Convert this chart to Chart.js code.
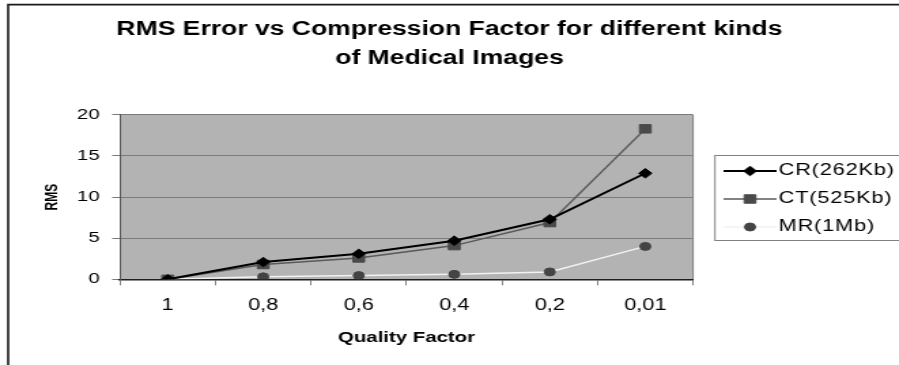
<!DOCTYPE html>
<html>
<head>
<meta charset="utf-8">
<script src="https://cdn.jsdelivr.net/npm/chart.js@4/dist/chart.umd.min.js"></script>
<style>
  html, body { margin: 0; padding: 0; background: #ffffff; overflow: hidden; }
  #wrap { width: 899px; height: 365px; position: relative; }
  /* the chart is laid out on a narrower canvas and widened to the page width */
  #chart { transform-origin: 0 0; transform: scaleX(1.36); }
</style>
</head>
<body>
<div id="wrap"><canvas id="chart" width="661" height="365"></canvas></div>
<script>
// Quality factor categories (x axis)
const qualityFactors = ['1', '0,8', '0,6', '0,4', '0,2', '0,01'];

// RMS error per image type
const crValues = [0, 2.1, 3.1, 4.7, 7.3, 12.9];
const ctValues = [0, 1.8, 2.6, 4.1, 6.9, 18.3];
const mrValues = [0, 0.3, 0.45, 0.6, 0.9, 4.0];

// Series names
const seriesNames = ['CR(262Kb)', 'CT(525Kb)', 'MR(1Mb)'];

// Y axis range and step
const yMin = 0, yMax = 20, yStep = 5;

const FONT = "'Liberation Sans', Arial, sans-serif";

// Gray plot background, right border and outer frame
const backdropPlugin = {
  id: 'backdrop',
  beforeDraw(chart) {
    const { ctx, chartArea: a, width } = chart;
    ctx.save();
    ctx.fillStyle = '#b3b3b3';
    ctx.fillRect(a.left, a.top, a.right - a.left, a.bottom - a.top);
    ctx.strokeStyle = '#808080';
    ctx.lineWidth = 1;
    ctx.beginPath();
    ctx.moveTo(a.right, a.top);
    ctx.lineTo(a.right, a.bottom);
    ctx.stroke();
    // outer frame (top and left edges)
    ctx.strokeStyle = '#1a1a1a';
    ctx.lineWidth = 1.6;
    ctx.beginPath();
    ctx.moveTo(width + 5, 4.6);
    ctx.lineTo(6, 4.6);
    ctx.lineTo(6, chart.height + 5);
    ctx.stroke();
    ctx.restore();
  }
};

// Boxed legend with line + marker samples
const sideLegendPlugin = {
  id: 'sideLegend',
  afterDraw(chart) {
    const { ctx } = chart;
    const boxL = 525.7, boxT = 155.5, boxB = 240.5;
    ctx.save();
    ctx.fillStyle = '#ffffff';
    ctx.fillRect(boxL, boxT, chart.width - boxL + 5, boxB - boxT);
    ctx.strokeStyle = '#808080';
    ctx.lineWidth = 1;
    ctx.strokeRect(boxL, boxT, chart.width - boxL + 5, boxB - boxT);
    chart.data.datasets.forEach((ds, i) => {
      const y = 171 + 28 * i;
      ctx.strokeStyle = ds.borderColor;
      ctx.lineWidth = ds.borderWidth;
      ctx.beginPath();
      ctx.moveTo(532, y);
      ctx.lineTo(571, y);
      ctx.stroke();
      ctx.fillStyle = ds.pointBackgroundColor;
      ctx.strokeStyle = ds.pointBorderColor;
      ctx.lineWidth = 1;
      Chart.helpers.drawPoint(ctx, {
        pointStyle: ds.pointStyle, radius: ds.pointRadius, rotation: 0, borderWidth: 1
      }, 551.5, y);
      ctx.fillStyle = '#000000';
      ctx.font = '16px ' + FONT;
      ctx.letterSpacing = '0.6px';
      ctx.textAlign = 'left';
      ctx.textBaseline = 'middle';
      ctx.fillText(ds.label, 572.5, y);
    });
    ctx.restore();
  }
};

new Chart(document.getElementById('chart'), {
  type: 'line',
  data: {
    labels: qualityFactors,
    datasets: [
      {
        label: seriesNames[0], data: crValues,
        borderColor: '#000000', borderWidth: 2,
        pointStyle: 'rectRot', pointRadius: 4.8,
        pointBackgroundColor: '#000000', pointBorderColor: '#000000', pointBorderWidth: 1
      },
      {
        label: seriesNames[1], data: ctValues,
        borderColor: '#5a5a5a', borderWidth: 1.5,
        pointStyle: 'rect', pointRadius: 6,
        pointBackgroundColor: '#4a4a4a', pointBorderColor: '#4a4a4a', pointBorderWidth: 1
      },
      {
        label: seriesNames[2], data: mrValues,
        borderColor: '#f2f2f2', borderWidth: 1.5,
        pointStyle: 'circle', pointRadius: 4,
        pointBackgroundColor: '#444444', pointBorderColor: '#444444', pointBorderWidth: 1
      }
    ]
  },
  options: {
    responsive: false,
    animation: false,
    devicePixelRatio: 1,
    layout: { padding: 0 },
    plugins: {
      legend: { display: false },
      tooltip: { enabled: false },
      title: {
        display: true,
        text: ['RMS Error vs Compression Factor for different kinds', 'of Medical Images'],
        color: '#000000',
        font: { family: FONT, size: 19.5, weight: 'bold', lineHeight: 1.51 },
        padding: { top: 14.8, bottom: 41.2 }
      }
    },
    scales: {
      x: {
        offset: true,
        grid: { offset: true, drawOnChartArea: false, drawTicks: true, tickLength: 6, color: '#808080' },
        border: { display: true, color: '#1e1e1e', width: 1.5 },
        ticks: { color: '#000000', font: { family: FONT, size: 16 }, padding: 10.5, maxRotation: 0 },
        title: {
          display: true, text: 'Quality Factor', color: '#000000',
          font: { family: FONT, size: 15, weight: 'bold' },
          padding: { top: 0, bottom: 18.2 }
        },
        afterFit(scale) { scale.height = 85.7; }
      },
      y: {
        min: yMin, max: yMax,
        grid: { color: '#7a7a7a', lineWidth: 1, tickLength: 5.7, drawTicks: true },
        border: { display: true, color: '#555555', width: 1 },
        ticks: { stepSize: yStep, color: '#000000', font: { family: FONT, size: 15 }, padding: 9.2 },
        title: {
          display: true, text: 'RMS', color: '#000000',
          font: { family: FONT, size: 12, weight: 'bold' },
          padding: { top: 31, bottom: 0 }
        },
        afterFit(scale) { scale.width = 88.2; }
      },
      // empty right-hand axis that reserves room for the legend box
      legendSpace: {
        type: 'linear', position: 'right', min: yMin, max: yMax,
        grid: { display: false, drawTicks: false },
        border: { display: false },
        ticks: { display: false },
        afterFit(scale) { scale.width = 151.4; }
      }
    }
  },
  plugins: [backdropPlugin, sideLegendPlugin]
});
</script>
</body>
</html>
